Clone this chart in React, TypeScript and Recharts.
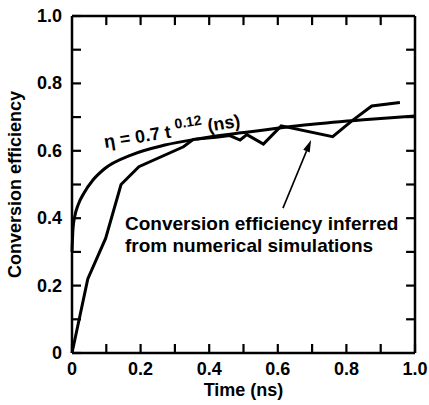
import { LineChart, Line, XAxis, YAxis, ReferenceDot, ReferenceLine, Label } from 'recharts';

// time in ns, efficiency as fraction
const SIM_T = [0, 0.046, 0.098, 0.143, 0.195, 0.325, 0.354, 0.42, 0.46, 0.49, 0.51, 0.558, 0.61, 0.76, 0.815, 0.874, 0.956];
const SIM_ETA = [0, 0.22, 0.34, 0.5, 0.553, 0.612, 0.634, 0.64, 0.645, 0.632, 0.648, 0.62, 0.674, 0.642, 0.688, 0.733, 0.743];

const FIT_T = [0, 0.003, 0.008, 0.018, 0.035, 0.06, 0.094, 0.174, 0.271, 0.37, 0.5, 0.694, 0.85, 1.0];
const FIT_ETA = [0.3, 0.37, 0.405, 0.44, 0.475, 0.512, 0.546, 0.588, 0.617, 0.636, 0.654, 0.678, 0.692, 0.703];

const TICKS = [0, 0.1, 0.2, 0.3, 0.4, 0.5, 0.6, 0.7, 0.8, 0.9, 1.0];
const INNER_TICKS = [0.1, 0.2, 0.3, 0.4, 0.5, 0.6, 0.7, 0.8, 0.9];

const simData = SIM_T.map((t, i) => ({ t, eta: SIM_ETA[i] }));
const fitData = FIT_T.map((t, i) => ({ t, eta: FIT_ETA[i] }));

const FONT = "'Liberation Sans', Arial, Helvetica, sans-serif";
const TICK_LEN = 9;
const TICK_COLOR = '#000';
// same tick length in data units for the top and right sides
const TX = 0.026;
const TY = 0.027;
const FRAME = { stroke: '#000', strokeWidth: 2.5 };
const TICK_LINE = { stroke: TICK_COLOR, strokeWidth: 2.2 };

const isMajor = (v: number) => Math.round(v * 10) % 2 === 0;
const fmt = (v: number) => (v === 0 ? '0' : v.toFixed(1));

// y arrives TICK_LEN above the axis because ticks point inward
const BottomTick = ({ x, y, payload }: any) =>
  isMajor(payload.value) ? (
    <text x={x} y={y + TICK_LEN + 22} textAnchor="middle" fontFamily={FONT} fontWeight="bold" fontSize={18} fill="#000">
      {fmt(payload.value)}
    </text>
  ) : null;

const LeftTick = ({ x, y, payload }: any) =>
  isMajor(payload.value) ? (
    <text x={x - TICK_LEN - 10} y={y + 6} textAnchor="end" fontFamily={FONT} fontWeight="bold" fontSize={18} fill="#000">
      {fmt(payload.value)}
    </text>
  ) : null;

const Arrow = ({ x1, y1, x2, y2 }: any) => {
  const dx = x2 - x1;
  const dy = y2 - y1;
  const len = Math.sqrt(dx * dx + dy * dy);
  const ux = dx / len;
  const uy = dy / len;
  const bx = x2 - ux * 12;
  const by = y2 - uy * 12;
  const px = -uy * 3.5;
  const py = ux * 3.5;
  return (
    <g>
      <line x1={x1} y1={y1} x2={bx} y2={by} stroke="#000" strokeWidth={1.6} />
      <polygon points={`${x2},${y2} ${bx + px},${by + py} ${bx - px},${by - py}`} fill="#000" />
    </g>
  );
};

const FitLabel = ({ cx, cy }: any) => (
  <text
    transform={`translate(${cx}, ${cy}) rotate(-9)`}
    fontFamily={FONT}
    fontWeight="bold"
    fontSize={18}
    fill="#000"
  >
    <tspan>η = 0.7 t</tspan>
    <tspan dx={5} dy={-8} fontSize={14}>0.12</tspan>
    <tspan dy={8}> (ns)</tspan>
  </text>
);

const NoteLabel = ({ cx, cy }: any) => (
  <text x={cx} y={cy} fontFamily={FONT} fontWeight="bold" fontSize={19} fill="#000">
    <tspan x={cx}>Conversion efficiency inferred</tspan>
    <tspan x={cx} dy={22}>from numerical simulations</tspan>
  </text>
);

export default function App() {
  return (
    <div style={{ width: 429, height: 405, background: '#fff' }}>
      <style>{'body{margin:0}'}</style>
      <LineChart width={429} height={405} margin={{ top: 16, right: 14, bottom: 0, left: 0 }}>
        <XAxis
          dataKey="t"
          type="number"
          domain={[0, 1]}
          ticks={TICKS}
          interval={0}
          height={52}
          tickSize={-TICK_LEN}
          tickMargin={0}
          tickLine={TICK_LINE}
          tick={<BottomTick />}
          axisLine={FRAME}
        >
          <Label
            content={({ viewBox }: any) => (
              <text
                x={viewBox.x + viewBox.width / 2}
                y={viewBox.y + 43}
                textAnchor="middle"
                fontFamily={FONT}
                fontWeight="bold"
                fontSize={18}
                fill="#000"
              >
                Time (ns)
              </text>
            )}
          />
        </XAxis>
        <YAxis
          type="number"
          domain={[0, 1]}
          ticks={TICKS}
          interval={0}
          width={72}
          tickSize={-TICK_LEN}
          tickMargin={0}
          tickLine={TICK_LINE}
          tick={<LeftTick />}
          axisLine={FRAME}
        >
          <Label
            content={({ viewBox }: any) => (
              <text
                transform={`translate(${viewBox.x + 21}, ${viewBox.y + viewBox.height / 2}) rotate(-90)`}
                textAnchor="middle"
                fontFamily={FONT}
                fontWeight="bold"
                fontSize={18}
                fill="#000"
              >
                Conversion efficiency
              </text>
            )}
          />
        </YAxis>
        {/* top and right sides of the frame with inward ticks */}
        <ReferenceLine y={1} stroke="#000" strokeWidth={2.5} />
        <ReferenceLine x={1} stroke="#000" strokeWidth={2.5} />
        {INNER_TICKS.map((v) => (
          <ReferenceLine key={`xt-${v}`} segment={[{ x: v, y: 1 - TY }, { x: v, y: 0.999 }]} stroke={TICK_COLOR} strokeWidth={2.2} />
        ))}
        {INNER_TICKS.map((v) => (
          <ReferenceLine key={`yr-${v}`} segment={[{ x: 1 - TX, y: v }, { x: 0.999, y: v }]} stroke={TICK_COLOR} strokeWidth={2.2} />
        ))}
        <Line
          data={fitData}
          dataKey="eta"
          type="monotone"
          stroke="#000"
          strokeWidth={3}
          dot={false}
          isAnimationActive={false}
        />
        <Line
          data={simData}
          dataKey="eta"
          type="linear"
          stroke="#000"
          strokeWidth={3}
          strokeLinejoin="miter"
          dot={false}
          isAnimationActive={false}
        />
        <ReferenceLine
          segment={[{ x: 0.615, y: 0.43 }, { x: 0.697, y: 0.632 }]}
          shape={<Arrow />}
        />
        <ReferenceDot x={0.096} y={0.608} r={0} shape={<FitLabel />} />
        <ReferenceDot x={0.1545} y={0.365} r={0} shape={<NoteLabel />} />
      </LineChart>
    </div>
  );
}
